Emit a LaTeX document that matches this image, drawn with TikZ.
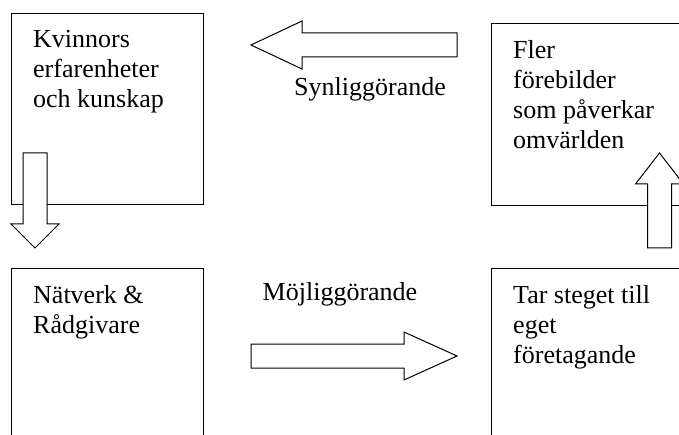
\documentclass[tikz,border=0pt]{standalone}
\usepackage{fontspec}
\setmainfont{Liberation Serif}
\newfontfamily\boxfont{Liberation Serif}

\begin{document}
\begin{tikzpicture}
[x=1pt,y=1pt,
 boxDecorate/.style={draw,line width=1pt,anchor=north west,minimum width=192pt,inner sep=0pt},
 textDecorate/.style={anchor=north west,align=left,inner sep=0pt,font=\boxfont\fontsize{26}{30}\selectfont},
 labelDecorate/.style={anchor=base,inner sep=0pt,font=\boxfont\fontsize{26}{30}\selectfont},
 arrowDecorate/.style={draw,fill=white,line width=1pt,line join=miter}]
\clip (0,0) rectangle (679,-435);
%% boxes
\foreach \nodename/\x/\y/\h in {kvinnor/11/13/191, fler/491/23/182, natverk/11/268/191, tar/491/268/191}
{
  \node (\nodename) at (\x,-\y) [boxDecorate,minimum height=\h pt] {};
}
%% texts in the boxes
\foreach \nodename/\txt in {kvinnor/{Kvinnors\\erfarenheter\\och kunskap},
  fler/{Fler\\förebilder\\som påverkar\\omvärlden},
  natverk/{Nätverk \&\\Rådgivare},
  tar/{Tar steget till\\eget\\företagande}}
{
  \node (\nodename-txt) at ([shift={(22,-17)}]\nodename.north west) [textDecorate] {\txt};
}
%% block arrows
\foreach \nodename/\x/\y/\ang/\len/\head in {
  synlig/457/45/180/206/51, mojlig/251/356/0/206/53,
  ned/35/153/-90/95/24, upp/659.5/248/90/95/31}
{
  \coordinate (\nodename) at (\x,-\y);
  \draw[arrowDecorate,shift={(\nodename)},rotate=\ang]
    (0,-12) -- (\len-\head,-12) -- (\len-\head,-24) -- (\len,0)
    -- (\len-\head,24) -- (\len-\head,12) -- (0,12) -- cycle;
}
%% arrow labels
\node (synlig-lbl) at (370,-96) [labelDecorate] {Synliggörande};
\node (mojlig-lbl) at (340,-300) [labelDecorate] {Möjliggörande};
\end{tikzpicture}
\end{document}
